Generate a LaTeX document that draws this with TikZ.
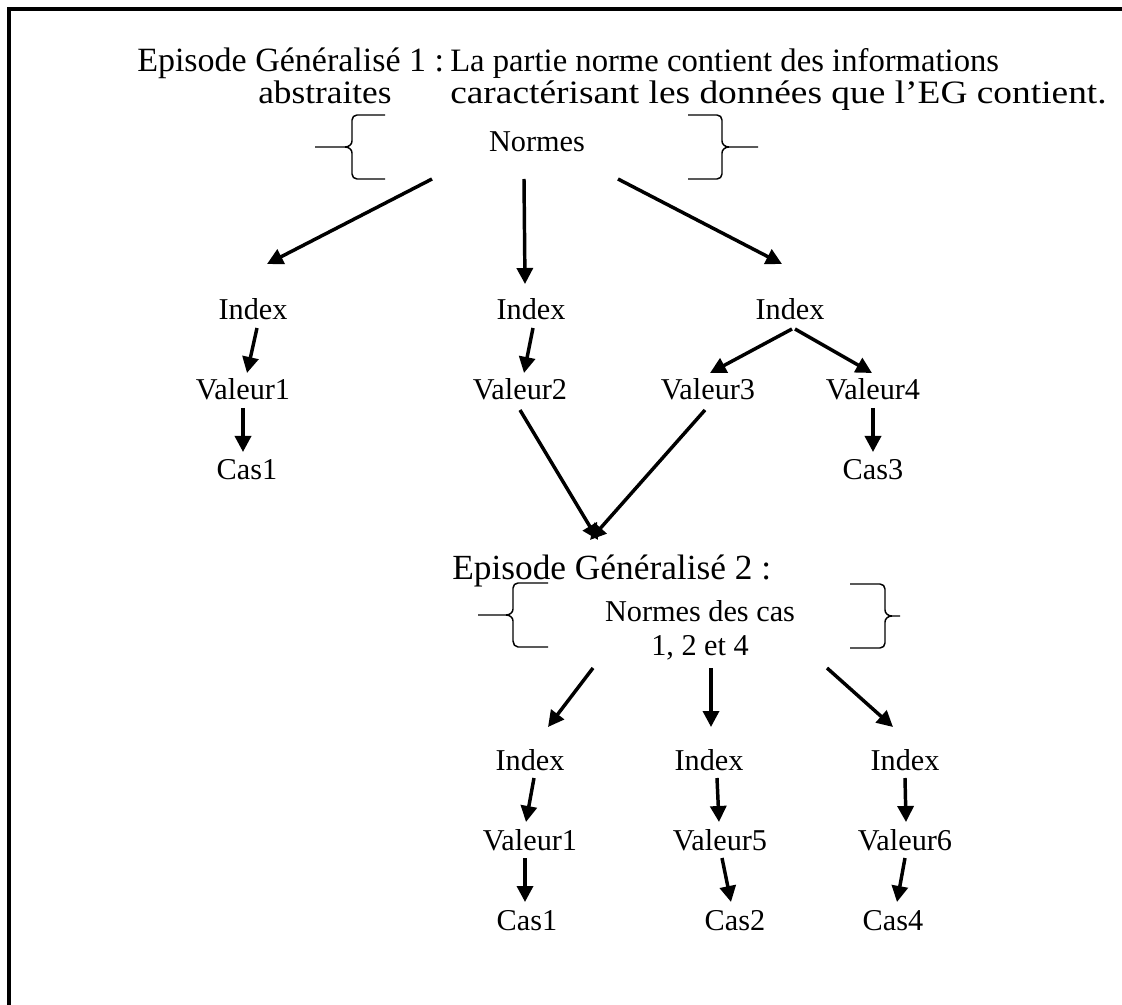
\documentclass[tikz,border=0pt]{standalone}
\usepackage{fontspec}
\setmainfont{Liberation Serif}
\usetikzlibrary{arrows.meta,calc}

\tikzset{
  lbl/.style={inner sep=0pt, anchor=base, font=\fontsize{22.7pt}{25pt}\selectfont},
  title/.style={inner sep=0pt, anchor=base west, font=\fontsize{25.5pt}{28pt}\selectfont},
  note/.style={inner sep=0pt, anchor=base west, font=\fontsize{24.5pt}{27pt}\selectfont},
  arr/.style={line width=2.6pt, -{Triangle[length=12pt,width=12pt]}},
  brace/.style={line width=1.1pt, line join=round},
  frame/.style={line width=2.8pt}
}

\begin{document}
\begin{tikzpicture}[x=0.75pt,y=-0.75pt]
\useasboundingbox (0,0) rectangle (1122,1005);

% open frame: top and left edges only
\draw[frame] (9,1005) -- (9,9) -- (1122,9);

% ---------- first generalised episode ----------
\node[title] (eg1) at (137,72) {Episode Généralisé 1 :};
\node[note] (desc1) at (450,72) {La partie norme contient des informations};
\node[note] (desc2a) at (258,104) {\scalebox{1.08}[1]{abstraites}};
\node[note] (desc2b) at (450,104) {\scalebox{1.145}[1]{caractérisant les données que l’EG contient.}};

\node[lbl] (normes) at (537,152) {Normes};

% braces around the norms
\draw[brace] (385,115) -- (357,115) to[out=180,in=90] (352,120) -- (352,141)
  to[out=-90,in=0] (345,147) -- (315,147);
\draw[brace] (345,147) to[out=0,in=90] (352,153) -- (352,174)
  to[out=-90,in=180] (357,179) -- (385,179);
\draw[brace] (688,115) -- (717,115) to[out=0,in=90] (722,120) -- (722,141)
  to[out=-90,in=180] (729,147) -- (758,147);
\draw[brace] (729,147) to[out=180,in=90] (722,153) -- (722,174)
  to[out=-90,in=0] (717,179) -- (688,179);

\node[lbl] (i1) at (253,320) {Index};
\node[lbl] (i2) at (531,320) {Index};
\node[lbl] (i3) at (790,320) {Index};

\node[lbl] (v1) at (243,400) {Valeur1};
\node[lbl] (v2) at (520,400) {Valeur2};
\node[lbl] (v3) at (708,400) {Valeur3};
\node[lbl] (v4) at (873,400) {Valeur4};

\node[lbl] (c1) at (247,480) {Cas1};
\node[lbl] (c3) at (873,480) {Cas3};

\draw[arr] ($(normes.base)+(-105,27)$) -- ($(i1.base)+(14,-56)$);
\draw[arr] ($(normes.base)+(-13,27)$) -- ($(i2.base)+(-6,-36)$);
\draw[arr] ($(normes.base)+(81,27)$) -- ($(i3.base)+(-8,-56)$);

\draw[arr] ($(i1.base)+(4,8)$) -- ($(v1.base)+(4,-27)$);
\draw[arr] ($(i2.base)+(2,8)$) -- ($(v2.base)+(4,-27)$);
\draw[arr] ($(i3.base)+(2,9)$) -- ($(v3.base)+(2,-27)$);
\draw[arr] ($(i3.base)+(5,9)$) -- ($(v4.base)+(-1,-27)$);

\draw[arr] ($(v1.base)+(0,8)$) -- ($(c1.base)+(-4,-28)$);
\draw[arr] ($(v4.base)+(0,8)$) -- ($(c3.base)+(0,-28)$);

% ---------- second generalised episode ----------
\node[title, font=\fontsize{26.5pt}{29pt}\selectfont] (eg2) at (452,580) {Episode Généralisé 2 :};
\node[lbl] (n2a) at (700,622) {Normes des cas};
\node[lbl] (n2b) at (700,655) {1, 2 et 4};

\draw[arr] ($(v2.base)+(0,10)$) -- ($(eg2.base west)+(146,-40)$);
\draw[arr] ($(v3.base)+(-3,10)$) -- ($(eg2.base west)+(138,-40)$);

% braces around the norms of the cases
\draw[brace] (548,583) -- (518,583) to[out=180,in=90] (513,588) -- (513,609)
  to[out=-90,in=0] (506,615) -- (478,615);
\draw[brace] (506,615) to[out=0,in=90] (513,621) -- (513,641)
  to[out=-90,in=180] (518,647) -- (548,647);
\draw[brace] (850,584) -- (880,584) to[out=0,in=90] (885,589) -- (885,610)
  to[out=-90,in=180] (892,616) -- (900,616);
\draw[brace] (892,616) to[out=180,in=90] (885,622) -- (885,643)
  to[out=-90,in=0] (880,648) -- (850,648);

\node[lbl] (j1) at (530,770) {Index};
\node[lbl] (j2) at (709,770) {Index};
\node[lbl] (j3) at (905,770) {Index};

\node[lbl] (w1) at (530,850) {Valeur1};
\node[lbl] (w2) at (720,850) {Valeur5};
\node[lbl] (w3) at (905,850) {Valeur6};

\node[lbl] (d1) at (527,930) {Cas1};
\node[lbl] (d2) at (735,930) {Cas2};
\node[lbl] (d3) at (893,930) {Cas4};

\draw[arr] ($(n2b.base)+(-107,13)$) -- ($(j1.base)+(18,-43)$);
\draw[arr] ($(n2b.base)+(11,13)$) -- ($(j2.base)+(2,-43)$);
\draw[arr] ($(n2b.base)+(127,13)$) -- ($(j3.base)+(-12,-43)$);

\draw[arr] ($(j1.base)+(4,8)$) -- ($(w1.base)+(-4,-28)$);
\draw[arr] ($(j2.base)+(8,8)$) -- ($(w2.base)+(-1,-28)$);
\draw[arr] ($(j3.base)+(0,8)$) -- ($(w3.base)+(1,-28)$);

\draw[arr] ($(w1.base)+(-5,8)$) -- ($(d1.base)+(-2,-28)$);
\draw[arr] ($(w2.base)+(2,8)$) -- ($(d2.base)+(-4,-28)$);
\draw[arr] ($(w3.base)+(0,8)$) -- ($(d3.base)+(4,-28)$);
\end{tikzpicture}
\end{document}
